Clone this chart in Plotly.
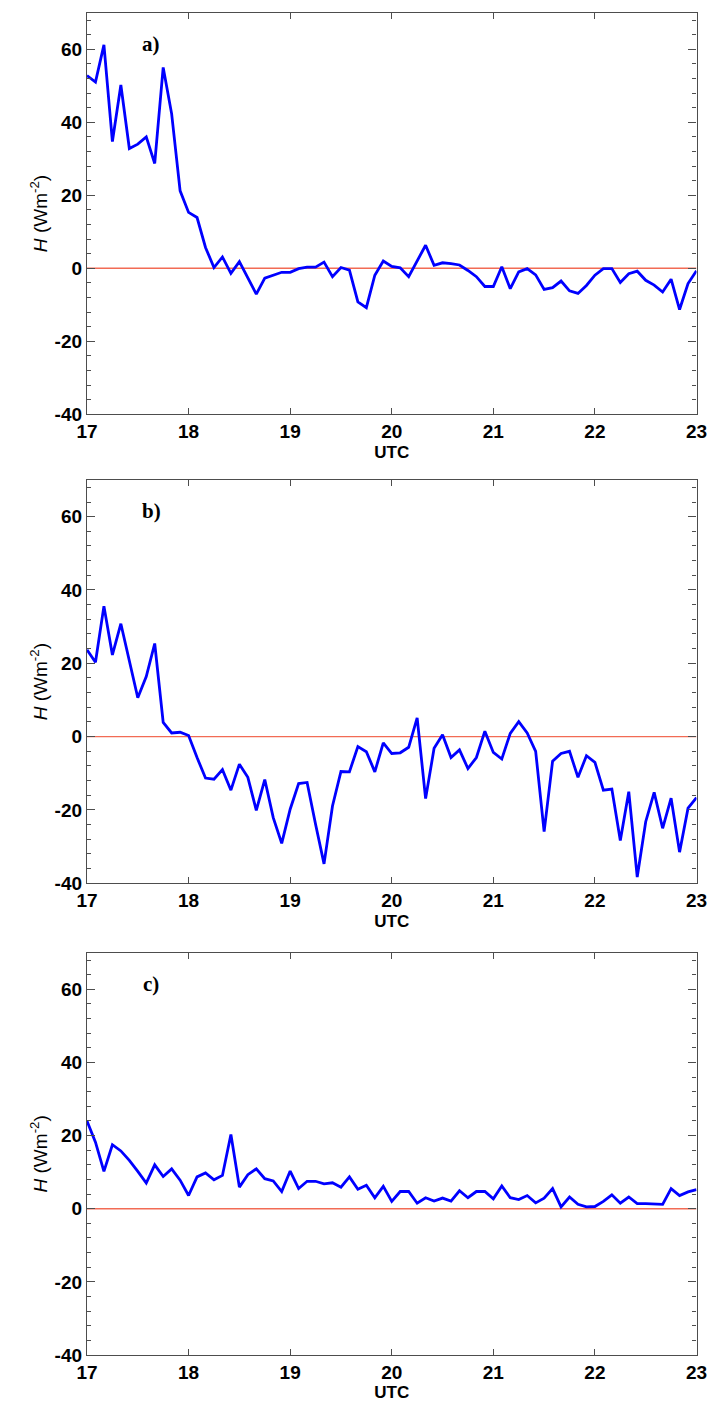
import plotly.graph_objects as go

# time axis: 5-minute samples from 17:00 to 23:00 UTC
hours = [17 + i * 5 / 60 for i in range(73)]

H_a = [52.8, 51.0, 61.2, 34.7, 50.2, 32.8, 34.0, 36.0, 28.7, 55.0,
       42.3, 21.2, 15.3, 13.9, 5.7, 0.2, 3.1, -1.4, 1.8, -2.6,
       -7.1, -2.7, -1.9, -1.1, -1.1, -0.1, 0.3, 0.3, 1.7, -2.3,
       0.2, -0.5, -9.2, -10.8, -1.9, 2.0, 0.5, 0.1, -2.3, 2.0,
       6.3, 0.8, 1.5, 1.3, 0.9, -0.6, -2.3, -5.0, -5.0, 0.4,
       -5.6, -1.0, -0.1, -1.8, -5.8, -5.3, -3.5, -6.2, -6.9, -4.7,
       -1.9, -0.1, -0.1, -3.9, -1.5, -0.8, -3.3, -4.6, -6.5, -3.0,
       -11.3, -4.2, -0.7]

H_b = [23.7, 20.3, 35.6, 22.3, 30.8, 20.5, 10.6, 16.4, 25.4, 3.9,
       1.0, 1.2, 0.3, -5.7, -11.3, -11.6, -9.0, -14.6, -7.5, -11.1,
       -20.1, -11.7, -22.1, -29.1, -19.8, -12.8, -12.5, -23.9, -34.7, -18.9,
       -9.5, -9.6, -2.7, -4.1, -9.6, -1.7, -4.6, -4.4, -2.9, 5.1,
       -16.9, -3.2, 0.5, -5.7, -3.6, -8.7, -5.7, 1.5, -4.3, -6.1,
       0.9, 4.1, 1.0, -4.0, -25.9, -6.7, -4.6, -4.0, -11.1, -5.2,
       -7.0, -14.6, -14.3, -28.3, -15.0, -38.3, -23.2, -15.2, -25.0, -16.8,
       -31.5, -19.5, -16.6]

H_c = [24.0, 18.2, 10.2, 17.5, 15.8, 13.2, 10.2, 7.0, 12.0, 8.8,
       10.9, 7.8, 3.6, 8.7, 9.8, 7.9, 9.1, 20.3, 5.9, 9.3,
       10.9, 8.2, 7.6, 4.7, 10.3, 5.5, 7.5, 7.5, 6.8, 7.1,
       5.9, 8.7, 5.3, 6.4, 3.0, 6.1, 2.0, 4.7, 4.7, 1.5,
       3.0, 2.1, 2.9, 2.1, 4.9, 3.0, 4.7, 4.7, 2.7, 6.2,
       3.0, 2.5, 3.6, 1.6, 2.9, 5.5, 0.5, 3.2, 1.2, 0.5,
       0.6, 2.0, 3.8, 1.5, 3.2, 1.4, 1.4, 1.2, 1.2, 5.5,
       3.6, 4.6, 5.2]

panel_labels = ["a)", "b)", "c)"]
x_ticks = [17, 18, 19, 20, 21, 22, 23]
y_ticks = [-40, -20, 0, 20, 40, 60]

W, Hpx = 712, 1403
x_dom = [87 / W, 696.5 / W]
y_doms = [
    [1 - 414.3 / Hpx, 1 - 12.7 / Hpx],
    [1 - 883.3 / Hpx, 1 - 480.0 / Hpx],
    [1 - 1355.0 / Hpx, 1 - 952.7 / Hpx],
]

sans = "Liberation Sans, Arial, sans-serif"
axis_col = "#4d4d4d"

fig = go.Figure()
series = [H_a, H_b, H_c]
for k, vals in enumerate(series):
    sfx = "" if k == 0 else str(k + 1)
    # zero reference line
    fig.add_trace(go.Scatter(
        x=[hours[0], hours[-1]], y=[0, 0], mode="lines",
        line=dict(color="#f26b55", width=1.4),
        xaxis="x" + sfx, yaxis="y" + sfx, showlegend=False, hoverinfo="skip"))
    fig.add_trace(go.Scatter(
        x=hours, y=vals, mode="lines",
        line=dict(color="#0000ff", width=2.8),
        xaxis="x" + sfx, yaxis="y" + sfx, showlegend=False))
    xa = dict(
        domain=x_dom, range=[17, 23], anchor="y" + sfx, automargin=False,
        tickvals=x_ticks, ticktext=[str(t) for t in x_ticks],
        ticks="inside", ticklen=6, tickwidth=1, tickcolor=axis_col,
        showline=True, linecolor=axis_col, linewidth=1.3, mirror="ticks",
        showgrid=False, zeroline=False,
        tickfont=dict(family=sans, size=19, color="black", weight="bold"),
        title=dict(text="UTC", standoff=4,
                   font=dict(family=sans, size=17, color="black", weight="bold")),
    )
    ya = dict(
        domain=y_doms[k], range=[-40, 70], anchor="x" + sfx, automargin=False,
        tickvals=y_ticks, ticktext=[str(t) for t in y_ticks],
        ticks="inside", ticklen=8, tickwidth=1, tickcolor=axis_col,
        minor=dict(dtick=4, tick0=0, ticks="inside", ticklen=4,
                   tickwidth=1, tickcolor=axis_col, showgrid=False),
        showline=True, linecolor=axis_col, linewidth=1.3, mirror="ticks",
        showgrid=False, zeroline=False,
        tickfont=dict(family=sans, size=19, color="black", weight="bold"),
        title=dict(text="<i>H</i> (Wm<sup>-2</sup>)", standoff=1,
                   font=dict(family=sans, size=19, color="black")),
    )
    fig.update_layout(**{"xaxis" + sfx: xa, "yaxis" + sfx: ya})
    fig.add_annotation(
        x=17.63, y=61.5, xref="x" + sfx, yref="y" + sfx,
        text="<b>" + panel_labels[k] + "</b>", showarrow=False,
        font=dict(family="Liberation Serif, Times New Roman, serif",
                  size=21, color="black"))

fig.update_layout(
    width=W, height=Hpx,
    margin=dict(l=0, r=0, t=0, b=0),
    paper_bgcolor="white", plot_bgcolor="white",
)

fig.write_html("out.html")
